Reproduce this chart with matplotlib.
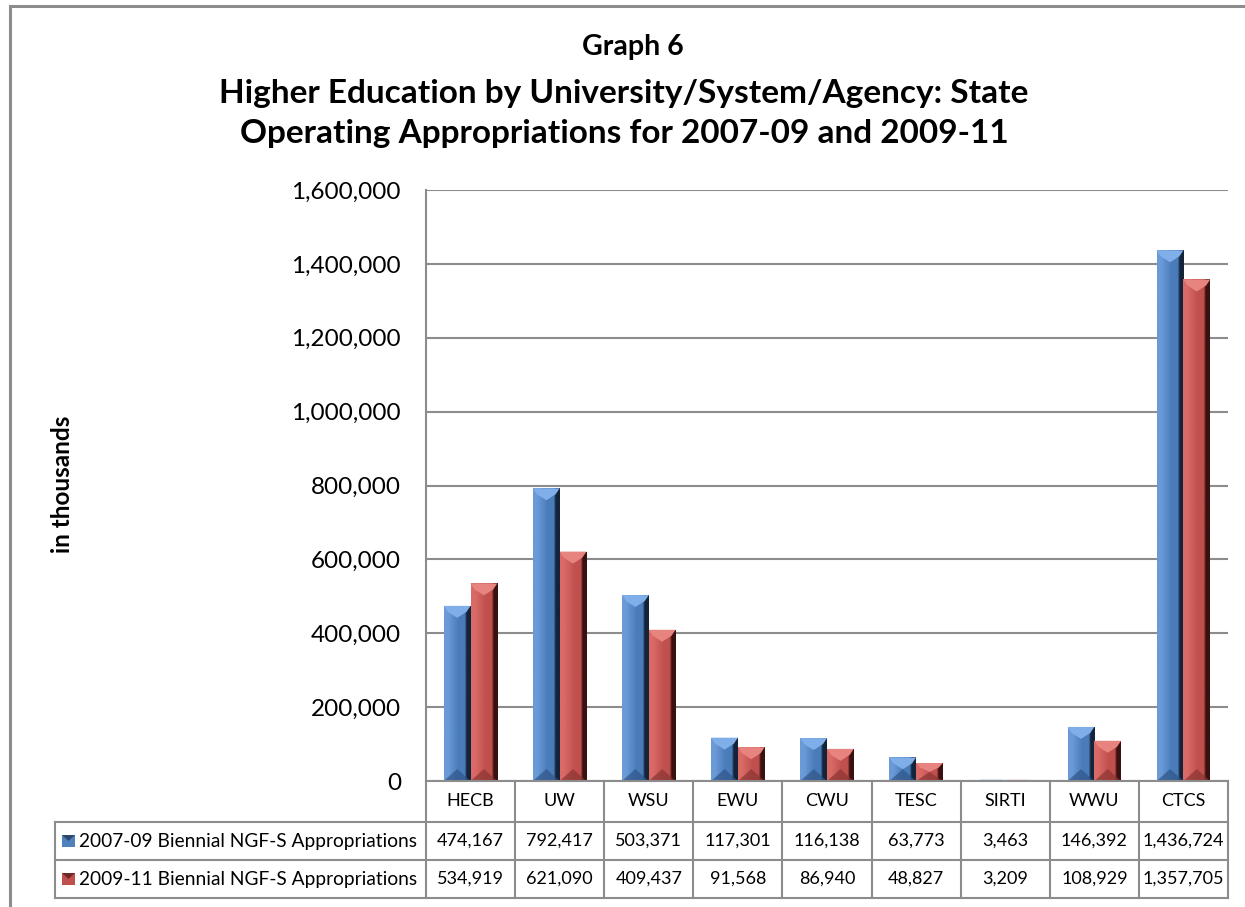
import matplotlib
matplotlib.use("Agg")
import matplotlib.pyplot as plt
import matplotlib.transforms as mtransforms
from matplotlib.patches import Rectangle, Polygon
from matplotlib.colors import LinearSegmentedColormap
import numpy as np

plt.rcParams['font.family'] = ['Lato', 'DejaVu Sans']

categories = ["HECB", "UW", "WSU", "EWU", "CWU", "TESC", "SIRTI", "WWU", "CTCS"]
series_names = ["2007-09 Biennial NGF-S Appropriations",
                "2009-11 Biennial NGF-S Appropriations"]
values_0709 = [474167, 792417, 503371, 117301, 116138, 63773, 3463, 146392, 1436724]
values_0911 = [534919, 621090, 409437, 91568, 86940, 48827, 3209, 108929, 1357705]
yticks = [0, 200000, 400000, 600000, 800000, 1000000, 1200000, 1400000, 1600000]

title_small = "Graph 6"
title_line1 = "Higher Education by University/System/Agency: State"
title_line2 = "Operating Appropriations for 2007-09 and 2009-11"
ylabel = "in thousands"

W, H = 1245, 907
fig = plt.figure(figsize=(W / 100, H / 100), dpi=100)
fig.patch.set_facecolor("white")


def fx(px):
    return px / W


def fy(py):
    return 1 - py / H


# outer frame (cropped at right and bottom)
fig.add_artist(Rectangle((fx(9.5), fy(1000)), fx(1400), fy(5.5) - fy(1000),
                         transform=fig.transFigure, fill=False,
                         edgecolor="#8c8c8c", linewidth=2.2))

left, right, top, bottom = 426, 1228, 190, 781
ax = fig.add_axes([fx(left), fy(bottom), fx(right - left), fy(top) - fy(bottom)])
ax.set_xlim(-0.5, len(categories) - 0.5)
ax.set_ylim(0, 1600000)
ax.set_yticks(yticks)
ax.set_yticklabels([f"{v:,}" for v in yticks], fontsize=17.5, color="black")
ax.tick_params(axis="y", length=0, pad=18)
ax.set_xticks([])
for s in ["top", "right", "bottom"]:
    ax.spines[s].set_visible(False)
ax.spines["left"].set_color("#8c8c8c")
ax.spines["left"].set_linewidth(1.5)
ax.grid(axis="y", color="#8c8c8c", linewidth=1.5)
ax.set_axisbelow(True)

x = np.arange(len(categories))
bw = 0.30

colors = [
    dict(base="#4F81BD", light="#6A9AD8", mid="#4A7CBA", dark="#14243A", top="#7FAEE8", bot="#2E5587"),
    dict(base="#C0504D", light="#D96A66", mid="#C0504D", dark="#3A1110", top="#E88480", bot="#8A3432"),
]

bars_all = []
for k, (vals, c) in enumerate(zip([values_0709, values_0911], colors)):
    bars = ax.bar(x - bw / 2 + k * bw, vals, width=bw, color=c["base"], zorder=2,
                  label=series_names[k], linewidth=0)
    bars_all.append((bars, c))

fig.canvas.draw()
inv = ax.transData.inverted()
p0 = inv.transform((0, 0))
p1 = inv.transform((0, 12))
bevel_d = p1[1] - p0[1]

for bars, c in bars_all:
    cmap = LinearSegmentedColormap.from_list(
        "g", [(0, c["light"]), (0.15, c["light"]), (0.55, c["mid"]), (0.78, c["mid"]),
              (0.85, c["dark"]), (1, c["dark"])])
    grad = np.linspace(0, 1, 64).reshape(1, -1)
    for p in bars:
        x0, w, h = p.get_x(), p.get_width(), p.get_height()
        im = ax.imshow(grad, cmap=cmap, aspect="auto", extent=(x0, x0 + w, 0, h),
                       zorder=2.1, interpolation="bilinear")
        im.set_clip_path(p)
        d = min(bevel_d, h / 2)
        ax.add_patch(Polygon([(x0, h), (x0 + w, h), (x0 + w * 0.85, h - d * 0.5),
                              (x0 + w / 2, h - d), (x0 + w * 0.15, h - d * 0.5)],
                             closed=True, facecolor=c["top"], edgecolor="none", zorder=2.2))
        ax.add_patch(Polygon([(x0, 0), (x0 + w, 0), (x0 + w / 2, min(d, h / 2))],
                             closed=True, facecolor=c["bot"], edgecolor="none", zorder=2.2, alpha=0.7))
ax.set_xlim(-0.5, len(categories) - 0.5)
ax.set_ylim(0, 1600000)

# titles
fig.text(fx(633), fy(47), title_small, ha="center", va="center", fontsize=20.5, fontweight="bold")
fig.text(fx(624), fy(93), title_line1, ha="center", va="center", fontsize=24, fontweight="bold")
fig.text(fx(624), fy(133), title_line2, ha="center", va="center", fontsize=24, fontweight="bold")
fig.text(fx(62), fy(484), ylabel, rotation=90, ha="center", va="center", fontsize=17.5, fontweight="bold")

# data table
bt = mtransforms.blended_transform_factory(ax.transData, fig.transFigure)
line_c = "#8c8c8c"
lw = 1.5
row_cat = (781, 822)
row1 = (822, 860)
row2 = (860, 898)
leg_left = 55


def hline(y, x0, x1):
    fig.add_artist(plt.Line2D([fx(x0), fx(x1)], [fy(y), fy(y)], transform=fig.transFigure,
                              color=line_c, linewidth=lw))


def vline(xp, y0, y1):
    fig.add_artist(plt.Line2D([fx(xp), fx(xp)], [fy(y0), fy(y1)], transform=fig.transFigure,
                              color=line_c, linewidth=lw))


hline(781, left, right)
hline(822, leg_left, right)
hline(860, leg_left, right)
hline(898, leg_left, right)
vline(leg_left, 822, 898)
for i in range(len(categories) + 1):
    xp = ax.transData.transform((i - 0.5, 0))[0]
    vline(xp, 781, 898)

for i, cat in enumerate(categories):
    ax.text(i, fy(sum(row_cat) / 2), cat, transform=bt, ha="center", va="center", fontsize=13)
    ax.text(i, fy(sum(row1) / 2), f"{values_0709[i]:,}", transform=bt, ha="center", va="center", fontsize=13)
    ax.text(i, fy(sum(row2) / 2), f"{values_0911[i]:,}", transform=bt, ha="center", va="center", fontsize=13)

for k, (row, c) in enumerate(zip([row1, row2], colors)):
    yc = sum(row) / 2
    fig.add_artist(Rectangle((fx(62), fy(yc + 6)), fx(13), fy(yc - 6) - fy(yc + 6),
                             transform=fig.transFigure, facecolor=c["base"], edgecolor="none"))
    fig.add_artist(Polygon([(fx(62), fy(yc - 6)), (fx(75), fy(yc - 6)), (fx(68.5), fy(yc))],
                           closed=True, transform=fig.transFigure, facecolor=c["dark"], edgecolor="none",
                           alpha=0.6))
    fig.text(fx(79), fy(yc), series_names[k], ha="left", va="center", fontsize=13.8)

fig.savefig("out.png", dpi=100, facecolor="white")
